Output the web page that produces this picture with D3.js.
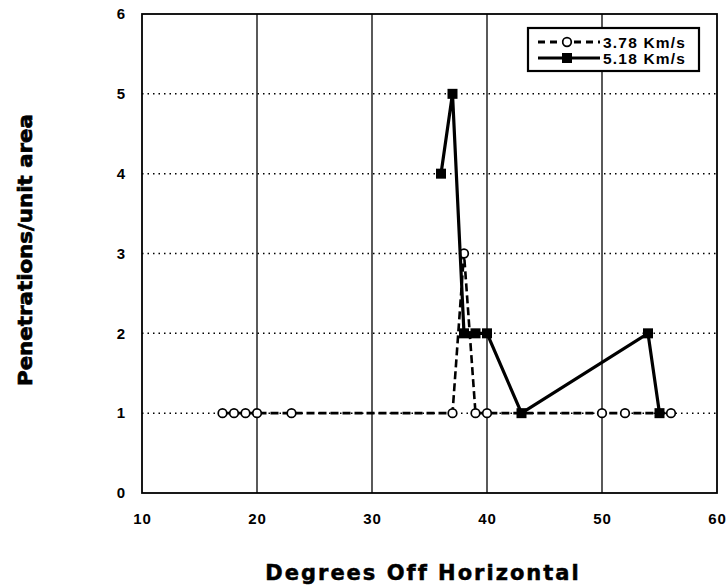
<!DOCTYPE html>
<html>
<head>
<meta charset="utf-8">
<script src="https://cdn.jsdelivr.net/npm/d3@7"></script>
<style>
  html, body { margin: 0; padding: 0; background: #fff; }
  svg { display: block; }
  text { font-family: "Liberation Sans", Arial, sans-serif; font-weight: bold; fill: #000; }
</style>
</head>
<body>
<div id="chart"></div>
<script>
// ---- data ----
const xTicks = [10, 20, 30, 40, 50, 60];
const yTicks = [0, 1, 2, 3, 4, 5, 6];

const series1Name = "3.78 Km/s";
const series1X = [17, 18, 19, 20, 23, 37, 38, 39, 40, 50, 52, 56];
const series1Y = [1, 1, 1, 1, 1, 1, 3, 1, 1, 1, 1, 1];

const series2Name = "5.18 Km/s";
const series2X = [36, 37, 38, 39, 40, 43, 54, 55];
const series2Y = [4, 5, 2, 2, 2, 1, 2, 1];

const xTitle = "Degrees Off Horizontal";
const yTitle = "Penetrations/unit area";

// ---- layout ----
const W = 726, H = 585;
const plot = { left: 142, right: 717, top: 14, bottom: 493 };

const svg = d3.select("#chart").append("svg")
  .attr("width", W).attr("height", H);

const x = d3.scaleLinear().domain([10, 60]).range([plot.left, plot.right]);
const y = d3.scaleLinear().domain([0, 6]).range([plot.bottom, plot.top]);

// horizontal dotted gridlines
svg.append("g").selectAll("line").data(yTicks.filter(d => d > 0 && d < 6)).join("line")
  .attr("x1", plot.left).attr("x2", plot.right)
  .attr("y1", d => y(d)).attr("y2", d => y(d))
  .attr("stroke", "#000").attr("stroke-width", 1.5)
  .attr("stroke-dasharray", "1.5,4");

// vertical solid gridlines
svg.append("g").selectAll("line").data(xTicks.filter(d => d > 10 && d < 60)).join("line")
  .attr("x1", d => x(d)).attr("x2", d => x(d))
  .attr("y1", plot.top).attr("y2", plot.bottom)
  .attr("stroke", "#000").attr("stroke-width", 1.3);

// plot frame
svg.append("rect")
  .attr("x", plot.left).attr("y", plot.top)
  .attr("width", plot.right - plot.left).attr("height", plot.bottom - plot.top)
  .attr("fill", "none").attr("stroke", "#000").attr("stroke-width", 1.8);

// axes (labels only)
const xAxis = d3.axisBottom(x).tickValues(xTicks).tickSize(0).tickPadding(20).tickFormat(d3.format("d"));
const gx = svg.append("g").attr("transform", `translate(0,${plot.bottom})`).call(xAxis);
gx.select(".domain").remove();
gx.selectAll("text").attr("font-size", 15).attr("letter-spacing", 1)
  .style("font-family", "'Liberation Sans', Arial, sans-serif").style("font-weight", "bold");

const yAxis = d3.axisLeft(y).tickValues(yTicks).tickSize(0).tickPadding(17).tickFormat(d3.format("d"));
const gy = svg.append("g").attr("transform", `translate(${plot.left},0)`).call(yAxis);
gy.select(".domain").remove();
gy.selectAll("text").attr("font-size", 15)
  .style("font-family", "'Liberation Sans', Arial, sans-serif").style("font-weight", "bold");

// series 1: dashed line, open circles
const d1 = series1X.map((v, i) => [v, series1Y[i]]);
const d2 = series2X.map((v, i) => [v, series2Y[i]]);
const line = d3.line().x(d => x(d[0])).y(d => y(d[1]));

svg.append("path").datum(d1).attr("d", line)
  .attr("fill", "none").attr("stroke", "#000").attr("stroke-width", 2.6)
  .attr("stroke-dasharray", "8,4");
svg.append("g").selectAll("circle").data(d1).join("circle")
  .attr("cx", d => x(d[0])).attr("cy", d => y(d[1])).attr("r", 4.3)
  .attr("fill", "#fff").attr("stroke", "#000").attr("stroke-width", 1.7);

// series 2: solid thick line, filled squares
svg.append("path").datum(d2).attr("d", line)
  .attr("fill", "none").attr("stroke", "#000").attr("stroke-width", 3.2);
const sq = 10;
svg.append("g").selectAll("rect").data(d2).join("rect")
  .attr("x", d => x(d[0]) - sq / 2).attr("y", d => y(d[1]) - sq / 2)
  .attr("width", sq).attr("height", sq).attr("fill", "#000");

// legend
const lg = svg.append("g");
lg.append("rect").attr("x", 528).attr("y", 28).attr("width", 171).attr("height", 43)
  .attr("fill", "#fff").attr("stroke", "#000").attr("stroke-width", 2.2);
const legendItems = [
  { name: series1Name, yy: 42, type: 1 },
  { name: series2Name, yy: 58, type: 2 }
];
legendItems.forEach(it => {
  if (it.type === 1) {
    lg.append("line").attr("x1", 538).attr("x2", 600).attr("y1", it.yy).attr("y2", it.yy)
      .attr("stroke", "#000").attr("stroke-width", 2.8).attr("stroke-dasharray", "7,5");
    lg.append("circle").attr("cx", 567).attr("cy", it.yy).attr("r", 4.3)
      .attr("fill", "#fff").attr("stroke", "#000").attr("stroke-width", 1.7);
  } else {
    lg.append("line").attr("x1", 538).attr("x2", 600).attr("y1", it.yy).attr("y2", it.yy)
      .attr("stroke", "#000").attr("stroke-width", 2.8);
    lg.append("rect").attr("x", 567 - sq / 2).attr("y", it.yy - sq / 2).attr("width", sq).attr("height", sq).attr("fill", "#000");
  }
  lg.append("text").attr("x", 603).attr("y", it.yy + 5.5).attr("font-size", 15.5)
    .attr("letter-spacing", 1.2).text(it.name);
});

// axis titles
svg.append("text").attr("x", 423).attr("y", 580).attr("text-anchor", "middle")
  .attr("font-size", 21).attr("letter-spacing", 2)
  .style("font-family", "'DejaVu Sans', sans-serif")
  .attr("stroke", "#000").attr("stroke-width", 0.5)
  .text(xTitle);

svg.append("text").attr("transform", "translate(32,250) rotate(-90)").attr("text-anchor", "middle")
  .attr("font-size", 19)
  .style("font-family", "'DejaVu Sans', sans-serif")
  .attr("stroke", "#000").attr("stroke-width", 0.7)
  .attr("textLength", 272).attr("lengthAdjust", "spacingAndGlyphs")
  .text(yTitle);
</script>
</body>
</html>
